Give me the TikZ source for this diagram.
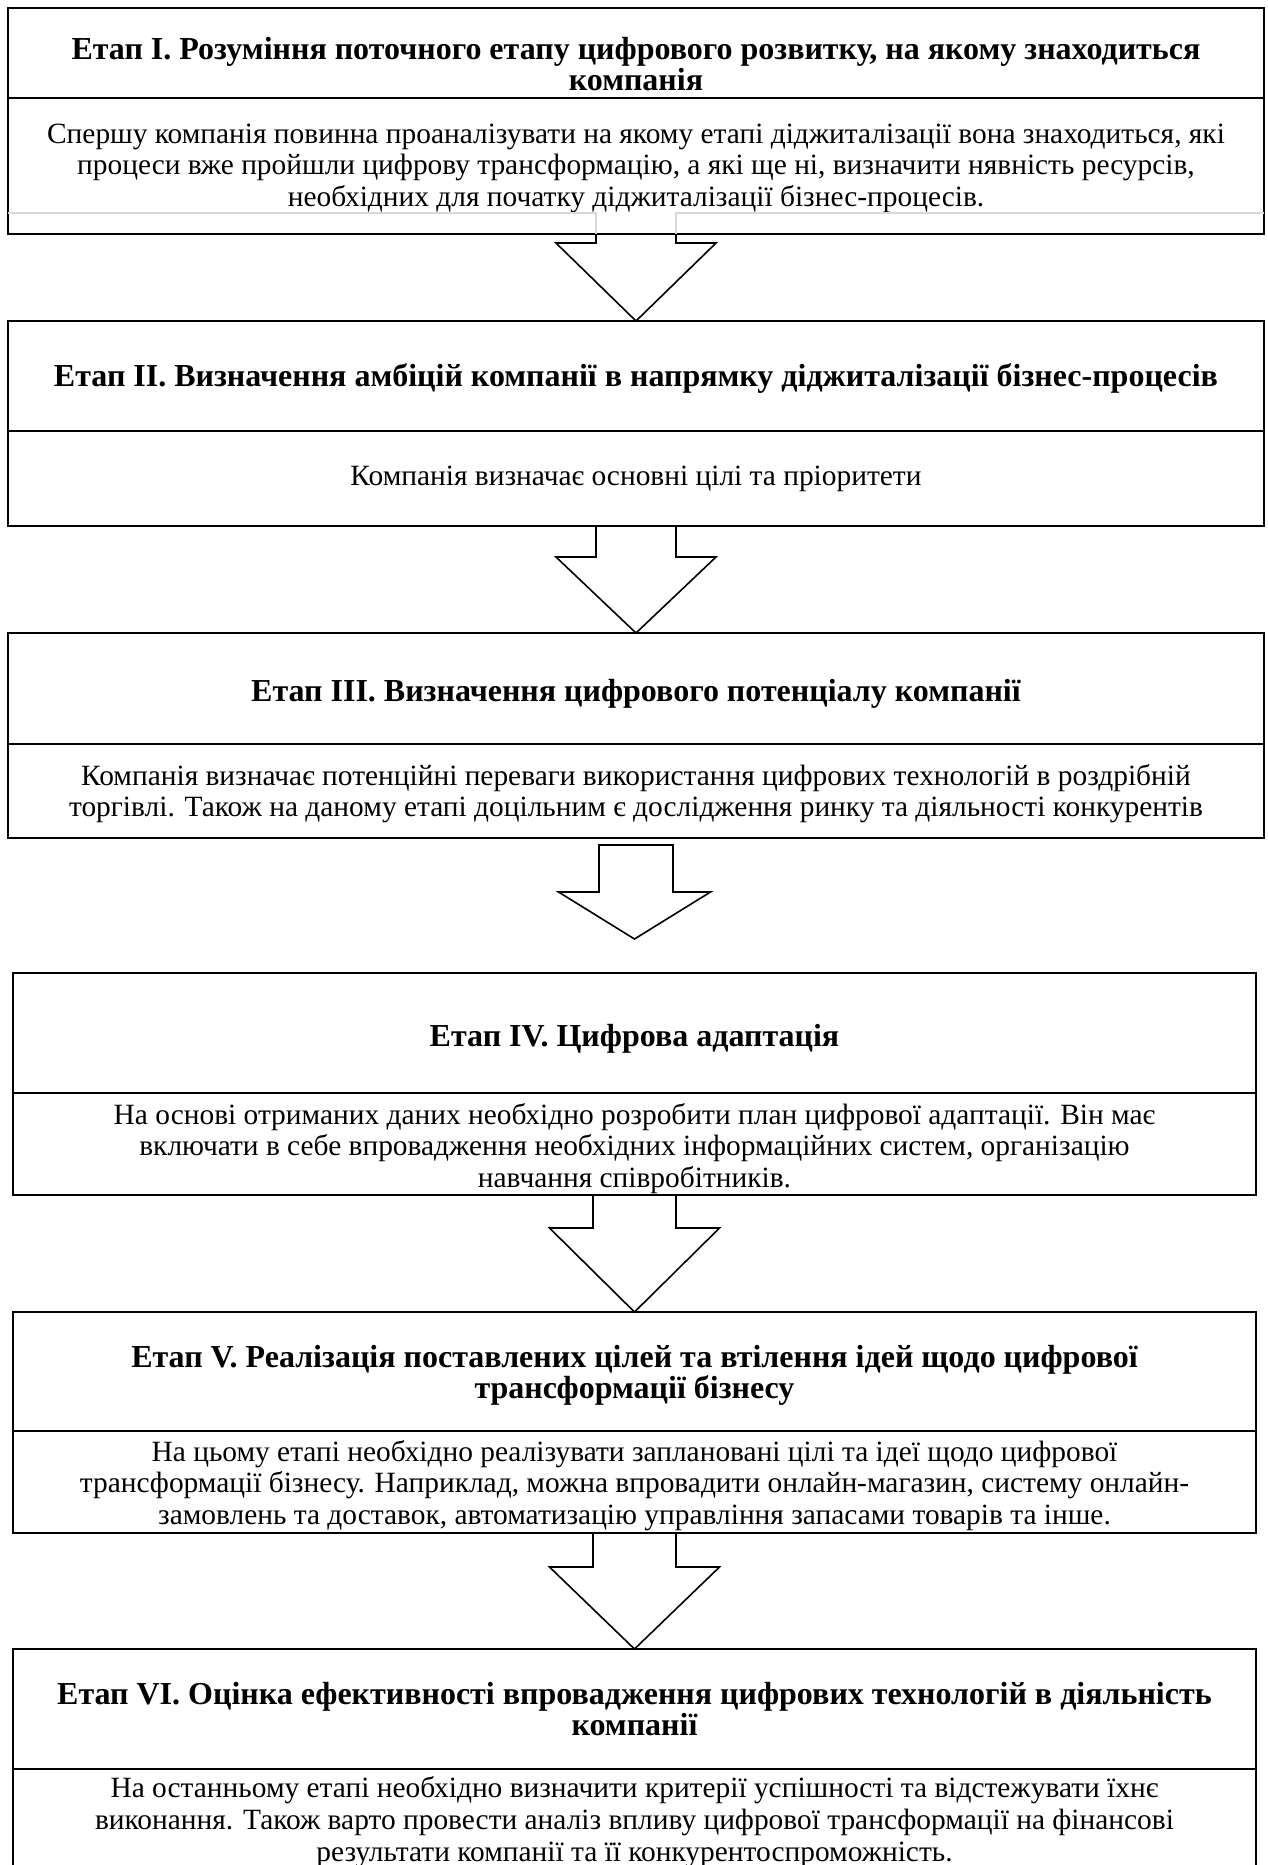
\documentclass[tikz,border=0pt]{standalone}
\usepackage{fontspec}
\setmainfont{Liberation Serif}
\usepackage{tikz}
\usetikzlibrary{positioning, calc}
\tikzstyle{fHeader} = [rectangle, draw=black, line width=1.2pt, outer sep=0pt, inner ysep=0pt, minimum width=628pt, align=center, font=\fontsize{16pt}{15.5pt}\selectfont\bfseries]
\tikzstyle{fBody} = [rectangle, draw=black, line width=1.2pt, outer sep=0pt, inner ysep=0pt, minimum width=628pt, align=center, font=\fontsize{14.7pt}{15.6pt}\selectfont]
\tikzstyle{fBlockArrow} = [draw=black, line width=0.8pt, line join=miter]

\begin{document}
\begin{tikzpicture}
    \useasboundingbox (0,0) rectangle (634pt,-932.5pt);
    \clip (0,0) rectangle (634pt,-932.5pt);

    \node (stageOneHead) [fHeader, minimum height=45pt, anchor=north] at (318pt,-4pt) {\rule{0pt}{22pt}Етап I. Розуміння поточного етапу цифрового розвитку, на якому знаходиться\\ компанія};
    \node (stageOneText) [fBody, minimum height=68pt, below=0pt of stageOneHead] {\rule{0pt}{12pt}Спершу компанія повинна проаналізувати на якому етапі діджиталізації вона знаходиться, які\\ процеси вже пройшли цифрову трансформацію, а які ще ні, визначити нявність ресурсів,\\ необхідних для початку діджиталізації бізнес-процесів.};

    \node (stageTwoHead) [fHeader, minimum height=55pt, below=43.5pt of stageOneText] {\rule{0pt}{14pt}Етап II. Визначення амбіцій компанії в напрямку діджиталізації бізнес-процесів};
    \node (stageTwoText) [fBody, minimum height=47.5pt, below=0pt of stageTwoHead] {Компанія визначає основні цілі та пріоритети};

    \node (stageThreeHead) [fHeader, minimum height=55.5pt, below=53.5pt of stageTwoText] {\rule{0pt}{16pt}Етап III. Визначення цифрового потенціалу компанії};
    \node (stageThreeText) [fBody, minimum height=47pt, below=0pt of stageThreeHead] {\rule{0pt}{13pt}Компанія визначає потенційні переваги використання цифрових технологій в роздрібній\\ торгівлі. Також на даному етапі доцільним є дослідження ринку та діяльності конкурентів};

    \node (stageFourHead) [fHeader, minimum width=621.5pt, minimum height=60pt, below=67.5pt of stageThreeText, xshift=-0.75pt] {\rule{0pt}{17pt}Етап IV. Цифрова адаптація};
    \node (stageFourText) [fBody, minimum width=621.5pt, minimum height=51pt, below=0pt of stageFourHead] {\rule{0pt}{15pt}На основі отриманих даних необхідно розробити план цифрової адаптації. Він має\\ включати в себе впровадження необхідних інформаційних систем, організацію\\ навчання співробітників.};

    \node (stageFiveHead) [fHeader, minimum width=621.5pt, minimum height=59.5pt, below=58.5pt of stageFourText] {\rule{0pt}{15pt}Етап V. Реалізація поставлених цілей та втілення ідей щодо цифрової\\ трансформації бізнесу};
    \node (stageFiveText) [fBody, minimum width=621.5pt, minimum height=51pt, below=0pt of stageFiveHead] {\rule{0pt}{14pt}На цьому етапі необхідно реалізувати заплановані цілі та ідеї щодо цифрової\\ трансформації бізнесу. Наприклад, можна впровадити онлайн-магазин, систему онлайн-\\ замовлень та доставок, автоматизацію управління запасами товарів та інше.};

    \node (stageSixHead) [fHeader, minimum width=621.5pt, minimum height=60pt, below=58pt of stageFiveText] {Етап VI. Оцінка ефективності впровадження цифрових технологій в діяльність\\ компанії};
    \node (stageSixText) [fBody, minimum width=621.5pt, minimum height=53pt, below=0pt of stageSixHead, font=\fontsize{14.7pt}{16pt}\selectfont] {На останньому етапі необхідно визначити критерії успішності та відстежувати їхнє\\ виконання. Також варто провести аналіз впливу цифрової трансформації на фінансові\\ результати компанії та її конкурентоспроможність.};

    % faint leftover of the first arrow inside the first box
    \draw [gray!30, line width=0.6pt] ($(stageOneText.south west)+(0,10.5pt)$) -| ($(stageOneText.south)+(-20pt,0)$);
    \draw [gray!30, line width=0.6pt] ($(stageOneText.south east)+(0,10.5pt)$) -| ($(stageOneText.south)+(20pt,0)$);

    \draw [fBlockArrow] ($(stageOneText.south)+(-20pt,0)$) |- ($(stageTwoHead.north)+(-40pt,39pt)$) -- (stageTwoHead.north) -- ($(stageTwoHead.north)+(40pt,39pt)$) -| ($(stageOneText.south)+(20pt,0)$);
    \draw [fBlockArrow] ($(stageTwoText.south)+(-20pt,0)$) |- ($(stageThreeHead.north)+(-40pt,38pt)$) -- (stageThreeHead.north) -- ($(stageThreeHead.north)+(40pt,38pt)$) -| ($(stageTwoText.south)+(20pt,0)$);
    \draw [fBlockArrow] ($(stageThreeText.south)+(-18.5pt,-3.5pt)$) |- ($(stageFourHead.north)+(-38pt,40.5pt)$) -- ($(stageFourHead.north)+(0,17pt)$) -- ($(stageFourHead.north)+(38pt,40.5pt)$) -| ($(stageThreeText.south)+(18.5pt,-3.5pt)$) -- cycle;
    \draw [fBlockArrow] ($(stageFourText.south)+(-20.75pt,0)$) |- ($(stageFiveHead.north)+(-42.5pt,42pt)$) -- (stageFiveHead.north) -- ($(stageFiveHead.north)+(42.5pt,42pt)$) -| ($(stageFourText.south)+(20.75pt,0)$);
    \draw [fBlockArrow] ($(stageFiveText.south)+(-20.75pt,0)$) |- ($(stageSixHead.north)+(-42.5pt,41pt)$) -- (stageSixHead.north) -- ($(stageSixHead.north)+(42.5pt,41pt)$) -| ($(stageFiveText.south)+(20.75pt,0)$);
\end{tikzpicture}
\end{document}
